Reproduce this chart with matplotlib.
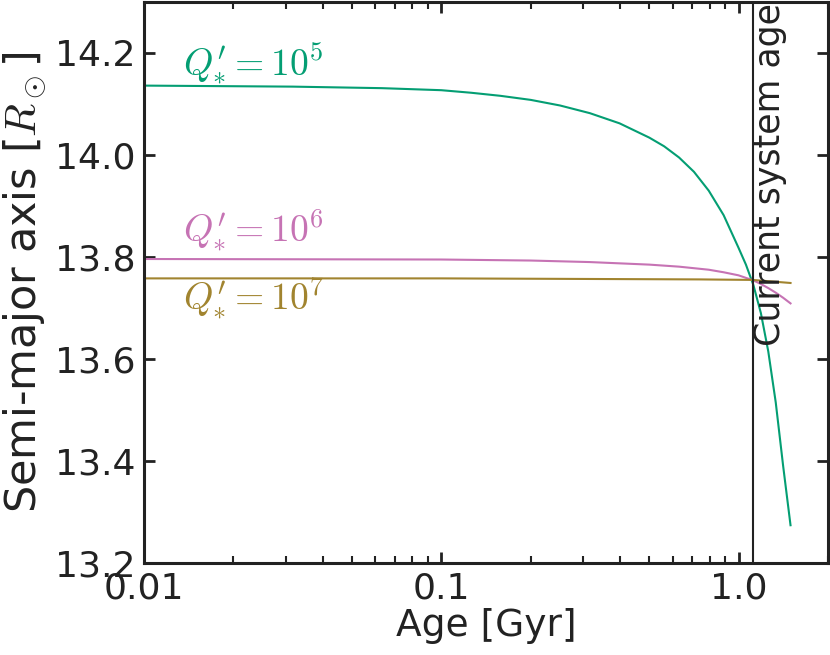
import matplotlib
matplotlib.use("Agg")
import matplotlib.pyplot as plt

plt.rcParams['mathtext.fontset'] = 'cm'
plt.rcParams['font.family'] = ['DejaVu Sans']

# Age [Gyr] and semi-major axis [R_sun]
age_q5 = [0.01, 0.0316, 0.0631, 0.1, 0.126, 0.158, 0.2, 0.251, 0.316, 0.398,
          0.501, 0.562, 0.631, 0.708, 0.794, 0.891, 1.0, 1.059, 1.122, 1.189,
          1.259, 1.334, 1.413, 1.496]
a_q5 = [14.136, 14.134, 14.131, 14.127, 14.122, 14.116, 14.108, 14.097, 14.082,
        14.062, 14.034, 14.017, 13.995, 13.967, 13.930, 13.882, 13.818, 13.785,
        13.745, 13.690, 13.615, 13.515, 13.390, 13.274]

age_q6 = [0.01, 0.1, 0.2, 0.316, 0.501, 0.631, 0.794, 0.891, 1.0, 1.122, 1.189,
          1.259, 1.334, 1.413, 1.496]
a_q6 = [13.796, 13.795, 13.793, 13.790, 13.785, 13.781, 13.775, 13.770, 13.764,
        13.754, 13.747, 13.739, 13.730, 13.720, 13.709]

age_q7 = [0.01, 0.1, 0.74, 1.115, 1.496]
a_q7 = [13.758, 13.758, 13.756, 13.755, 13.749]

current_age = 1.115

labels = [r"$Q_{*}^{\prime} = 10^5$", r"$Q_{*}^{\prime} = 10^6$", r"$Q_{*}^{\prime} = 10^7$"]
colors = ['#049E73', '#C673B4', '#A1842F']
label_pos_y = [14.18, 13.852, 13.718]

xtick_vals = [0.01, 0.1, 1.0]
xtick_labels = ['0.01', '0.1', '1.0']
ytick_vals = [13.2, 13.4, 13.6, 13.8, 14.0, 14.2]
ytick_labels = ['13.2', '13.4', '13.6', '13.8', '14.0', '14.2']

fig = plt.figure(figsize=(8.30, 6.55), dpi=100)
ax = fig.add_axes([0.1735, 0.1405, 0.8241, 0.8565])

for (x, y), c in zip([(age_q5, a_q5), (age_q6, a_q6), (age_q7, a_q7)], colors):
    ax.plot(x, y, color=c, lw=1.5)

ax.axvline(current_age, color='#222222', lw=1.5)
ax.text(current_age * 1.004, 14.297, 'Current system age', rotation=90,
        ha='left', va='top', fontsize=25, color='#222222')

for lab, c, yy in zip(labels, colors, label_pos_y):
    ax.text(0.0135, yy, lab, color=c, fontsize=27, va='center', ha='left')

ax.set_xscale('log')
ax.set_xlim(0.01, 2.0)
ax.set_ylim(13.2, 14.3)
ax.set_xticks(xtick_vals)
ax.set_xticklabels(xtick_labels)
ax.set_yticks(ytick_vals)
ax.set_yticklabels(ytick_labels)

ax.tick_params(which='both', direction='in', top=True, right=True,
               color='#222222', labelcolor='#222222')
ax.tick_params(which='major', length=8, width=2, labelsize=26, pad=6)
ax.tick_params(which='minor', length=5, width=1.5)
for s in ax.spines.values():
    s.set_linewidth(2.2)
    s.set_color('#222222')

ax.set_xlabel('Age [Gyr]', fontsize=27, color='#222222', labelpad=2)
ax.set_ylabel(r'Semi-major axis [$R_\odot$]', fontsize=31, color='#222222', labelpad=4)

fig.savefig('out.png', dpi=100)
